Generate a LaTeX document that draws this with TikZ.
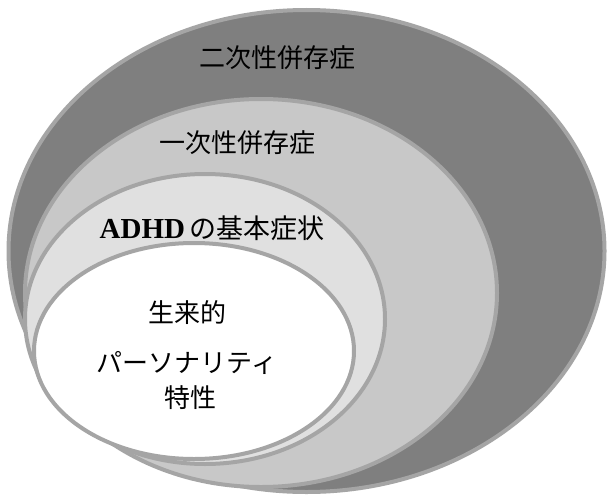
\documentclass[tikz,border=0pt]{standalone}
\usepackage{fontspec}
\setmainfont{Liberation Serif}
\newfontfamily\jp{Noto Sans CJK JP}
\definecolor{ringline}{HTML}{A5A5A5}
\definecolor{ringA}{HTML}{7F7F7F}
\definecolor{ringB}{HTML}{C8C8C8}
\definecolor{ringC}{HTML}{E0E0E0}
\tikzset{
  ring/.style={draw=ringline, line width=4pt},
  lbl/.style={font=\jp\fontsize{26}{30}\selectfont, text=black, inner sep=0pt, anchor=center}
}
\begin{document}
\begin{tikzpicture}[x=1pt, y=-1pt]
\useasboundingbox (0,0) rectangle (607,495);
\fill[white] (0,0) rectangle (607,495);
\draw[ring, fill=ringA] (306.5,251) ellipse [x radius=298pt, y radius=241pt];
\draw[ring, fill=ringB] (261,293) ellipse [x radius=236pt, y radius=194pt];
\draw[ring, fill=ringC] (205,319) ellipse [x radius=180pt, y radius=145pt];
\draw[ring, fill=white] (194,351) ellipse [x radius=160pt, y radius=108pt];
\node[lbl] (secondary) at (277,58) {二次性併存症};
\node[lbl] (primary) at (237,143) {一次性併存症};
\node[lbl] (core) at (212,228) {{\rmfamily\bfseries\fontsize{29}{30}\selectfont ADHD}\,{\fontsize{27}{30}\selectfont の基本症状}};
\node[lbl] (l1) at (187,313) {生来的};
\node[lbl] (l2) at (187,363) {パーソナリティ};
\node[lbl] (l3) at (190,398) {特性};
\end{tikzpicture}
\end{document}
